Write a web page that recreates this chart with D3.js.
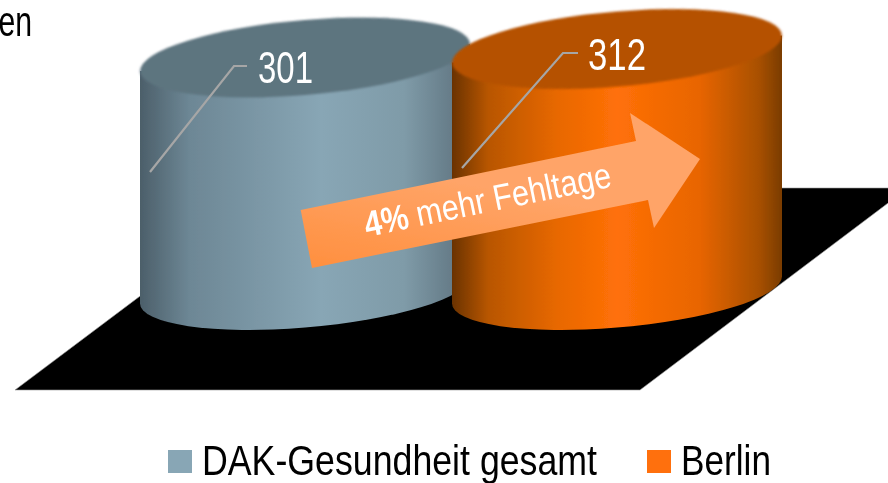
<!DOCTYPE html>
<html>
<head>
<meta charset="utf-8">
<script src="https://cdn.jsdelivr.net/npm/d3@7"></script>
<style>
  html, body { margin: 0; padding: 0; background: #fff; overflow: hidden; }
  text { font-family: "Liberation Sans", Arial, sans-serif; }
</style>
</head>
<body>
<div id="wrapper"></div>
<script>
const categories = ["DAK-Gesundheit gesamt", "Berlin"];
const values = [301, 312];
const titleRest = "en";
const arrowBold = "4%";
const arrowText = " mehr Fehltage";

const colors = ["#88a6b5", "#ff7008"];
const topColors = ["#5d747f", "#b55100"];
const bodyStops = [
  [[0, "#4c5f6a"], [0.15, "#6d8795"], [0.55, "#88a6b5"], [0.8, "#7f9ba8"], [1, "#5c707c"]],
  [[0, "#6a3200"], [0.11, "#b85600"], [0.32, "#e86800"], [0.5, "#ff7008"], [0.75, "#e86500"], [0.93, "#a85000"], [1, "#7a3c00"]]
];

let dimensions = { width: 888, height: 483, baseY: 290, topY: 49 };
const rx = 165, ry = 37.6, skew = -4.68;

const wrapper = d3.select("#wrapper").append("svg")
  .attr("width", dimensions.width)
  .attr("height", dimensions.height);
const defs = wrapper.append("defs");

// the reference is a soft scaled image, so everything gets a slight blur
defs.append("filter").attr("id", "soft")
  .attr("x", 0).attr("y", 0).attr("width", 1).attr("height", 1)
  .attr("filterUnits", "userSpaceOnUse")
  .attr("width", dimensions.width).attr("height", dimensions.height)
  .append("feGaussianBlur").attr("stdDeviation", 0.5);
defs.append("filter").attr("id", "lidBlur")
  .append("feGaussianBlur").attr("stdDeviation", 1);

const root = wrapper.append("g").attr("filter", "url(#soft)");

const xScale = d3.scalePoint().domain(categories).range([305, 617]);
const yScale = d3.scaleLinear().domain([0, d3.max(values)]).range([dimensions.baseY, dimensions.topY]);

// floor
root.append("path")
  .attr("d", "M15,390 L640,390 L908,188 L284,188 Z")
  .attr("fill", "#000")
  .attr("stroke", "#999")
  .attr("stroke-width", 0.6);

// cylinders
categories.forEach((c, i) => {
  const grad = defs.append("linearGradient").attr("id", "body" + i);
  bodyStops[i].forEach(s => grad.append("stop").attr("offset", s[0]).attr("stop-color", s[1]));

  const top = yScale(values[i]);
  const g = root.append("g")
    .attr("transform", `translate(${xScale(c)},0) skewY(${skew})`);
  // body, from the middle of the lid down round the bottom edge
  g.append("path")
    .attr("d", `M${-rx},${top} L${-rx},${dimensions.baseY} A${rx},${ry} 0 0 0 ${rx},${dimensions.baseY} L${rx},${top} Z`)
    .attr("fill", `url(#body${i})`);
  g.append("ellipse")
    .attr("cx", 0)
    .attr("cy", top)
    .attr("rx", rx)
    .attr("ry", ry)
    .attr("fill", topColors[i])
    .attr("filter", "url(#lidBlur)");
});

// leader lines and value labels
const leaderDx = [[-155, -71, -58], [-155, -54, -39]];
const leaderDy = [106, 115];
const labels = root.append("g");
values.forEach((v, i) => {
  const cx = xScale(categories[i]);
  const y = yScale(v) + 8.5 - (i == 1 ? 4.5 : 0);
  const pts = leaderDx[i].map((dx, k) => `${cx + dx},${k == 0 ? y + leaderDy[i] : y}`);
  labels.append("polyline")
    .attr("points", pts.join(" "))
    .attr("fill", "none")
    .attr("stroke", "#a6a6a6")
    .attr("stroke-width", 2.2);
  labels.append("text")
    .attr("x", cx + (i == 0 ? -47 : -29))
    .attr("y", y + 17)
    .attr("font-size", 44)
    .attr("fill", "#fff")
    .attr("textLength", i == 0 ? 55 : 58)
    .attr("lengthAdjust", "spacingAndGlyphs")
    .text(v);
});

// arrow
const arrowGrad = defs.append("linearGradient").attr("id", "arrowGrad")
  .attr("x1", 0).attr("y1", 1).attr("x2", 0.3).attr("y2", 0.4);
arrowGrad.append("stop").attr("offset", 0).attr("stop-color", "#ff8f3e");
arrowGrad.append("stop").attr("offset", 1).attr("stop-color", "#ffa467");
root.append("path")
  .attr("d", "M300.7,210 L636,141 L630,113 L700,159 L654,228 L648,200 L312,268 Z")
  .attr("fill", "url(#arrowGrad)");
const arrowLabel = root.append("text")
  .attr("transform", "translate(367,237) rotate(-11.6)")
  .attr("font-size", 36)
  .attr("fill", "#fff")
  .attr("textLength", 251)
  .attr("lengthAdjust", "spacingAndGlyphs");
arrowLabel.append("tspan").attr("font-weight", "bold").text(arrowBold);
arrowLabel.append("tspan").text(arrowText);

// legend
const legendX = [168, 647];
const legendTextX = [202, 681];
const legendTextW = [395, 90];
categories.forEach((c, i) => {
  root.append("rect")
    .attr("x", legendX[i])
    .attr("y", 450)
    .attr("width", 24)
    .attr("height", 23)
    .attr("fill", colors[i]);
  root.append("text")
    .attr("x", legendTextX[i])
    .attr("y", 475)
    .attr("font-size", 42)
    .attr("fill", "#000")
    .attr("textLength", legendTextW[i])
    .attr("lengthAdjust", "spacingAndGlyphs")
    .text(c);
});

// end of the cut off headline
root.append("text")
  .attr("transform", "translate(32,36) scale(0.72,1)")
  .attr("text-anchor", "end")
  .attr("font-size", 42)
  .attr("fill", "#000")
  .text(titleRest);
</script>
</body>
</html>
